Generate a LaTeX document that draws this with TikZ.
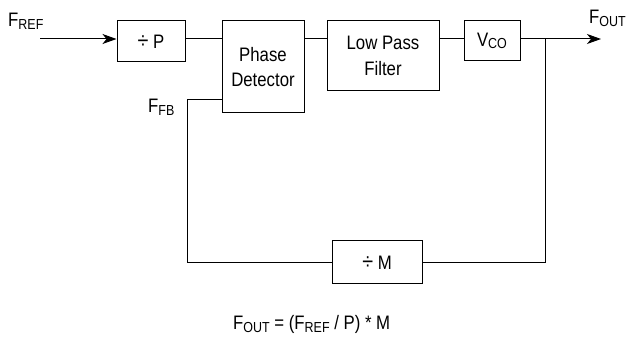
\documentclass[tikz,border=0pt]{standalone}
\usepackage{fontspec}
\setmainfont{Liberation Sans}[FakeStretch=0.86]
\usetikzlibrary{arrows.meta}
\newcommand\subt[1]{\raisebox{-2.5pt}{\fontsize{14.5}{15}\selectfont #1}}
\newcommand\divs{{\fontsize{23}{25}\selectfont ÷}}
\begin{document}
\begin{tikzpicture}[x=1pt,y=-1pt,
  blk/.style={draw,line width=1pt,inner sep=0pt,align=center,font=\fontsize{19.5}{25.5}\selectfont},
  wire/.style={line width=1pt},
  lbl/.style={inner sep=0pt,font=\fontsize{19.5}{22}\selectfont},
  arr/.style={wire,-{Stealth[length=14pt,width=10pt,inset=4pt]}}]
\useasboundingbox (0,0) rectangle (630,347);
\node[blk,minimum width=68pt,minimum height=41pt] (divP) at (151,41.5) {\divs\ P};
\node[blk,minimum width=82pt,minimum height=92pt] (pd) at (263,67) {Phase\\Detector};
\node[blk,minimum width=112pt,minimum height=70pt] (lpf) at (383,56) {Low Pass\\Filter};
\node[blk,minimum width=56pt,minimum height=40pt] (vco) at (492,41) {V\subt{CO}};
\node[blk,minimum width=90pt,minimum height=43pt] (divM) at (377,262.5) {\divs\ M};
\coordinate (in) at (40,39);
\coordinate (split) at (545,39);
\coordinate (out) at (601,39);
\coordinate (fbc) at (187,100);
\draw[arr] (in) -- (in -| divP.west);
\draw[wire] (in -| divP.east) -- (in -| pd.west);
\draw[wire] (in -| pd.east) -- (in -| lpf.west);
\draw[wire] (in -| lpf.east) -- (in -| vco.west);
\draw[arr] (in -| vco.east) -- (out);
\draw[wire] (split) |- (divM.east);
\draw[wire] (divM.west) -| (fbc) -- (fbc -| pd.west);
\node[lbl,anchor=base west] (fref) at (8,27) {F\subt{REF}};
\node[lbl,anchor=base west] (fout) at (589,24) {F\subt{OUT}};
\node[lbl,anchor=base west] (ffb) at (148,113) {F\subt{FB}};
\node[lbl,anchor=base west] (eq) at (233,330) {F\subt{OUT} = (F\subt{REF} / P) * M};
\end{tikzpicture}
\end{document}
